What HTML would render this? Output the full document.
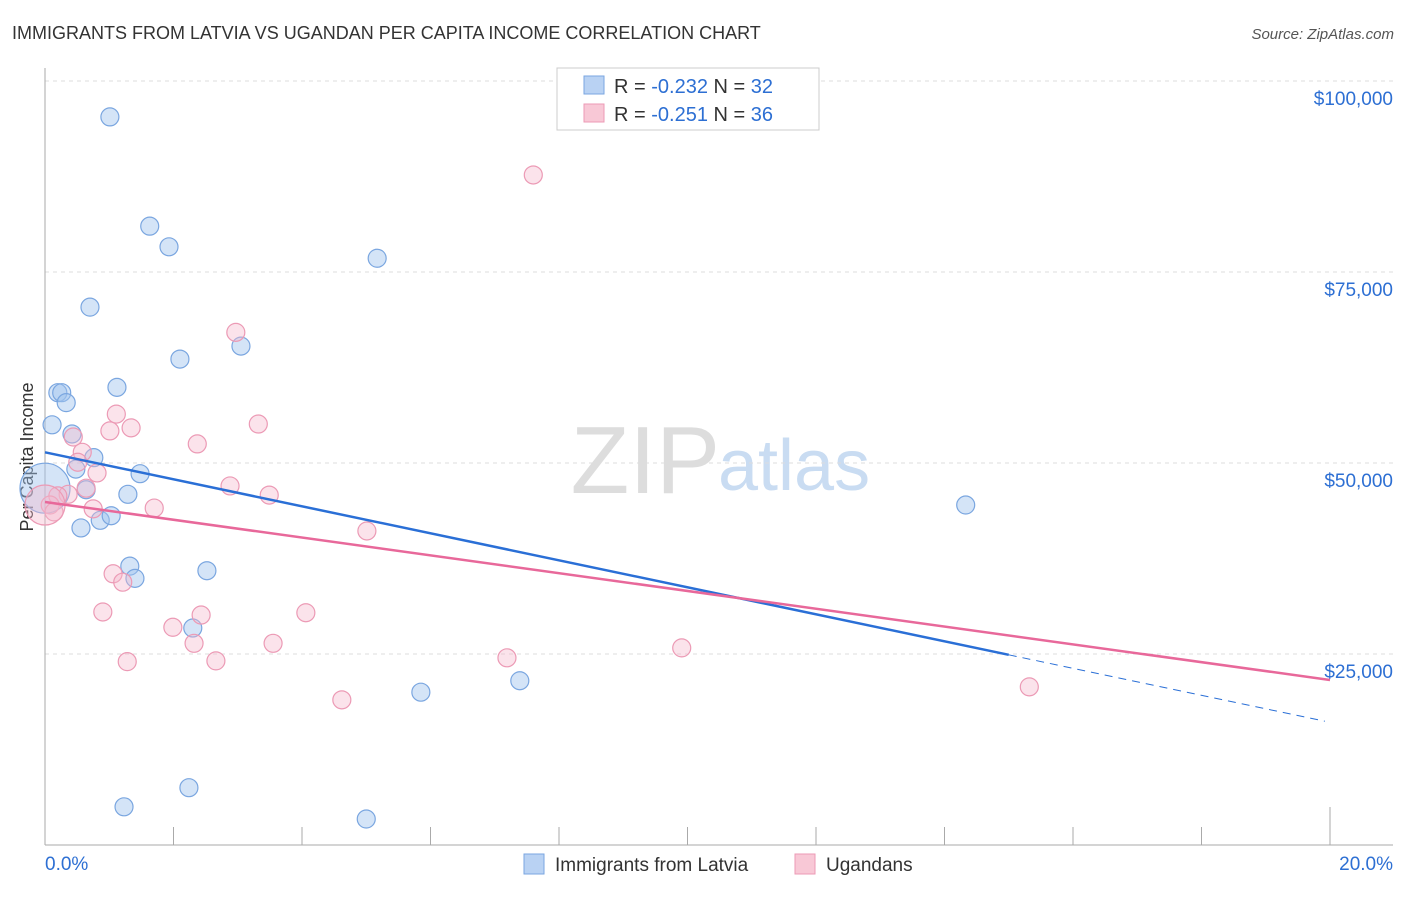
<!DOCTYPE html>
<html><head><meta charset="utf-8"><style>
body{margin:0;background:#fff;font-family:"Liberation Sans",sans-serif}
svg text{font-family:"Liberation Sans",sans-serif}
</style></head><body>
<svg width="1406" height="892" viewBox="0 0 1406 892">
<text x="12" y="39" font-size="18" fill="#333">IMMIGRANTS FROM LATVIA VS UGANDAN PER CAPITA INCOME CORRELATION CHART</text>
<text x="1394" y="39" font-size="15" fill="#555" font-style="italic" text-anchor="end">Source: ZipAtlas.com</text>
<text x="33" y="457" font-size="18" fill="#333" text-anchor="middle" transform="rotate(-90 33 457)">Per Capita Income</text>
<text x="720" y="493" font-size="96" fill="#ddd" text-anchor="end" font-family="Liberation Serif">ZIP</text>
<text x="718" y="490" font-size="72" fill="#c9dcf2">atlas</text>
<g id="grid"></g>
<g id="axes"></g>
<g id="pts"></g>
<g id="lines"></g>
<g>
<rect x="557" y="68" width="262" height="62" fill="#fff" stroke="#ccc"/>
<rect x="584" y="76" width="20" height="18" fill="#b9d2f3" stroke="#7aa6e0"/>
<text x="614" y="93" font-size="20" fill="#333">R = <tspan fill="#2d6fd3">-0.232</tspan>   N = <tspan fill="#2d6fd3">32</tspan></text>
<rect x="584" y="104" width="20" height="18" fill="#f8c8d6" stroke="#ec9ab5"/>
<text x="614" y="121" font-size="20" fill="#333">R =  <tspan fill="#2d6fd3">-0.251</tspan>   N = <tspan fill="#2d6fd3">36</tspan></text>
</g>
<g>
<rect x="524" y="854" width="20" height="20" fill="#b9d2f3" stroke="#7aa6e0"/>
<text x="555" y="871" font-size="19" fill="#333">Immigrants from Latvia</text>
<rect x="795" y="854" width="20" height="20" fill="#f8c8d6" stroke="#ec9ab5"/>
<text x="826" y="871" font-size="19" fill="#333">Ugandans</text>
</g>
</svg>
<script>
const blueX=[1.01,1.63,1.93,5.17,0.70,2.10,3.05,1.12,0.20,0.26,0.33,0.11,0.42,0.76,0.48,1.48,0.64,1.29,0.86,1.03,0.56,0.0,1.32,1.40,2.52,2.30,5.85,7.39,14.33,1.23,2.24,5.00];
const blueY=[95.3,81.0,78.3,76.8,70.4,63.6,65.3,59.9,59.2,59.2,57.9,55.0,53.8,50.7,49.2,48.6,46.5,45.9,42.5,43.1,41.5,46.7,36.5,34.9,35.9,28.4,20.0,21.5,44.5,5.0,7.5,3.4];
const blueR=[9,9,9,9,9,9,9,9,9,9,9,9,9,9,9,9,9,9,9,9,9,25,9,9,9,9,9,9,9,9,9,9];
const pinkX=[7.60,2.97,3.32,1.11,1.01,1.34,2.37,0.44,0.58,0.51,0.81,0.64,2.88,3.49,0.36,0.20,1.70,0.75,0.08,0.14,0.0,5.01,1.06,1.21,0.90,2.43,1.99,4.06,2.32,3.55,1.28,2.66,4.62,7.19,9.91,15.32];
const pinkY=[87.7,67.1,55.1,56.4,54.2,54.6,52.5,53.4,51.4,50.1,48.7,46.7,47.0,45.8,45.9,45.7,44.1,44.0,44.5,43.6,44.5,41.1,35.5,34.4,30.5,30.1,28.5,30.4,26.4,26.4,24.0,24.1,19.0,24.5,25.8,20.7];
const pinkR=[9,9,9,9,9,9,9,9,9,9,9,9,9,9,9,9,9,9,9,9,20,9,9,9,9,9,9,9,9,9,9,9,9,9,9,9];
const yTicks=[25,50,75,100];
const yTickLabels=["$25,000","$50,000","$75,000","$100,000"];
const xTicks=[0,2,4,6,8,10,12,14,16,18,20];
const blueTrend=[51.4,16.2];
const blueSolidEnd=15;
const pinkTrend=[44.9,21.6];
const NS="http://www.w3.org/2000/svg";
const sx=v=>45+v*64.25, sy=v=>845-v*7.64;
function mk(tag,attrs,parent){const e=document.createElementNS(NS,tag);for(const k in attrs)e.setAttribute(k,attrs[k]);document.getElementById(parent).appendChild(e);return e;}
yTicks.forEach((t,i)=>{
 const l=mk('line',{x1:45,x2:1393,y1:sy(t),y2:sy(t),stroke:'#ddd','stroke-dasharray':'4,4'},'grid');
 
 
 const tx=mk('text',{x:1393,y:sy(t)+24,'font-size':19,fill:'#2d6fd3','text-anchor':'end'},'grid');
 tx.textContent=yTickLabels[i];
 
 
});
const ya=mk('line',{x1:45,x2:45,y1:68,y2:845,stroke:'#aaa'},'axes');


const xa=mk('line',{x1:45,x2:1393,y1:845,y2:845,stroke:'#aaa'},'axes');


xTicks.forEach((t,i)=>{ if(i===0)return;
 const k=mk('line',{x1:sx(t),x2:sx(t),y1:i===xTicks.length-1?807:827,y2:845,stroke:'#aaa'},'axes');
 
 
});
const xl0=mk('text',{x:45,y:870,'font-size':19,fill:'#2d6fd3'},'axes');xl0.textContent=xTicks[0].toFixed(1)+'%';


const xl1=mk('text',{x:1393,y:870,'font-size':19,fill:'#2d6fd3','text-anchor':'end'},'axes');xl1.textContent=xTicks[xTicks.length-1].toFixed(1)+'%';


blueX.forEach((x,i)=>{
 const c=mk('circle',{cx:sx(x),cy:sy(blueY[i]),r:blueR[i],fill:'rgba(160,195,238,0.45)',stroke:'#7aa6e0','stroke-width':1.2},'pts');
 
 
});
pinkX.forEach((x,i)=>{
 const c=mk('circle',{cx:sx(x),cy:sy(pinkY[i]),r:pinkR[i],fill:'rgba(246,185,205,0.4)',stroke:'#ec9ab5','stroke-width':1.2},'pts');
 
 
});
const bAt=x=>blueTrend[0]+(blueTrend[1]-blueTrend[0])*x/19.92;
const b1=mk('line',{x1:sx(0),y1:sy(bAt(0)),x2:sx(blueSolidEnd),y2:sy(bAt(blueSolidEnd)),stroke:'#2a6fd6','stroke-width':2.5},'lines');


const b2=mk('line',{x1:sx(blueSolidEnd),y1:sy(bAt(blueSolidEnd)),x2:sx(19.92),y2:sy(blueTrend[1]),stroke:'#2a6fd6','stroke-width':1,'stroke-dasharray':'8,6'},'lines');


const p1=mk('line',{x1:sx(0),y1:sy(pinkTrend[0]),x2:sx(20),y2:sy(pinkTrend[1]),stroke:'#e8689a','stroke-width':2.5},'lines');


</script>
</body></html>
